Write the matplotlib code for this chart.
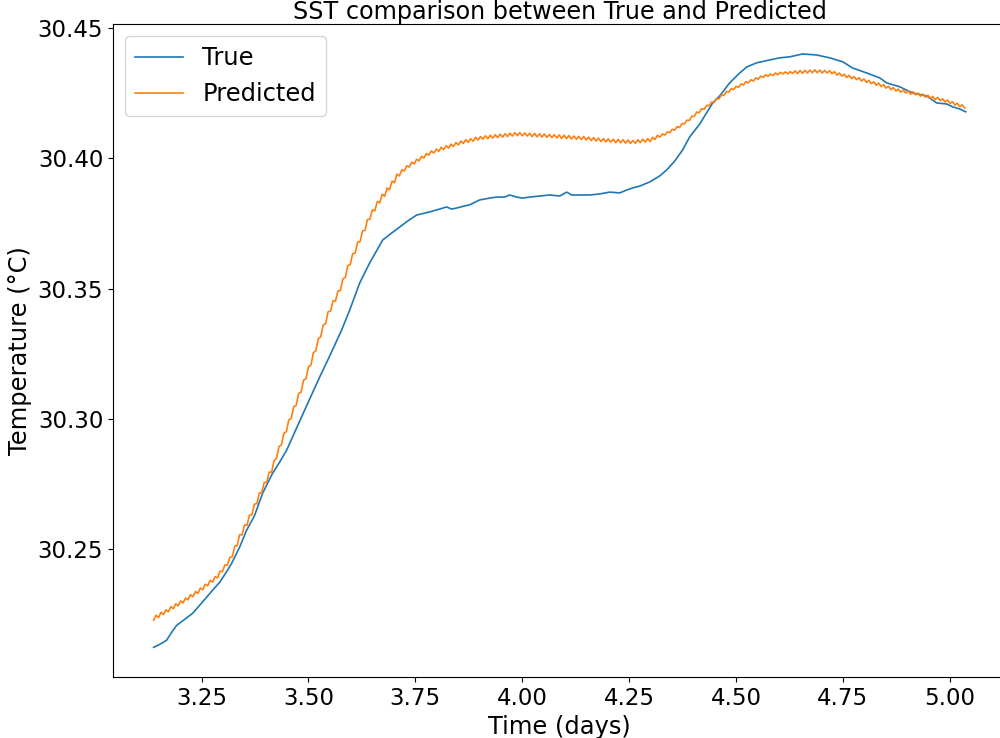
"""SST comparison: true vs predicted sea-surface temperature over ~2 days."""
import numpy as np
import matplotlib; matplotlib.use("Agg")
import matplotlib.pyplot as plt

# observed SST (days, degC)
true_time = [3.1377, 3.1517, 3.1681, 3.1798, 3.1915, 3.2102, 3.2289, 3.2453, 3.2617, 3.2757,
             3.2921, 3.3062, 3.3202, 3.3389, 3.3553, 3.3740, 3.3927, 3.4161, 3.4325, 3.4489,
             3.4793, 3.5027, 3.5261, 3.5495, 3.5776, 3.5963, 3.6197, 3.6431, 3.6735, 3.6945,
             3.7133, 3.7320, 3.7530, 3.7834, 3.8068, 3.8232, 3.8349, 3.8466, 3.8653, 3.8770,
             3.9004, 3.9238, 3.9402, 3.9589, 3.9706, 3.9870, 4.0010, 4.0174, 4.0408, 4.0642,
             4.0876, 4.1040, 4.1157, 4.1344, 4.1578, 4.1812, 4.2046, 4.2280, 4.2444, 4.2584,
             4.2748, 4.2982, 4.3216, 4.3380, 4.3567, 4.3754, 4.3918, 4.4152, 4.4456, 4.4620,
             4.4854, 4.5088, 4.5252, 4.5486, 4.5790, 4.6024, 4.6258, 4.6562, 4.6890, 4.7194,
             4.7498, 4.7732, 4.8060, 4.8364, 4.8528, 4.8832, 4.9135, 4.9463, 4.9697, 4.9931,
             5.0071, 5.0235, 5.0375]
true_sst = [30.2124, 30.2135, 30.2151, 30.2181, 30.2208, 30.2231, 30.2254, 30.2285, 30.2316, 30.2343,
            30.2373, 30.2408, 30.2446, 30.2508, 30.2573, 30.2630, 30.2715, 30.2792, 30.2834, 30.2880,
            30.2991, 30.3076, 30.3160, 30.3241, 30.3341, 30.3417, 30.3521, 30.3598, 30.3686, 30.3713,
            30.3736, 30.3759, 30.3782, 30.3794, 30.3805, 30.3813, 30.3805, 30.3809, 30.3817, 30.3821,
            30.3840, 30.3847, 30.3851, 30.3851, 30.3859, 30.3851, 30.3847, 30.3851, 30.3855, 30.3859,
            30.3855, 30.3870, 30.3859, 30.3859, 30.3859, 30.3863, 30.3870, 30.3867, 30.3878, 30.3886,
            30.3893, 30.3909, 30.3932, 30.3955, 30.3989, 30.4032, 30.4082, 30.4131, 30.4212, 30.4239,
            30.4289, 30.4327, 30.4350, 30.4366, 30.4377, 30.4385, 30.4389, 30.4400, 30.4396, 30.4385,
            30.4370, 30.4346, 30.4327, 30.4308, 30.4289, 30.4274, 30.4250, 30.4239, 30.4212, 30.4208,
            30.4197, 30.4189, 30.4178]

# model output, sampled every 0.00575 days from t0
pred_t0 = 3.1377
pred_dt = 0.00575
pred_sst = [
    30.2228, 30.2247, 30.2238, 30.2258, 30.2249, 30.2268, 30.2260, 30.2280, 30.2272, 30.2291,
    30.2283, 30.2302, 30.2294, 30.2313, 30.2306, 30.2326, 30.2318, 30.2338, 30.2331, 30.2351,
    30.2345, 30.2366, 30.2360, 30.2381, 30.2374, 30.2395, 30.2390, 30.2416, 30.2414, 30.2440,
    30.2439, 30.2469, 30.2471, 30.2512, 30.2514, 30.2556, 30.2555, 30.2594, 30.2592, 30.2631,
    30.2632, 30.2673, 30.2675, 30.2716, 30.2717, 30.2757, 30.2756, 30.2796, 30.2796, 30.2840,
    30.2849, 30.2894, 30.2900, 30.2945, 30.2951, 30.2996, 30.3002, 30.3047, 30.3052, 30.3098,
    30.3103, 30.3149, 30.3154, 30.3200, 30.3206, 30.3254, 30.3261, 30.3308, 30.3315, 30.3360,
    30.3366, 30.3411, 30.3414, 30.3453, 30.3452, 30.3491, 30.3492, 30.3537, 30.3543, 30.3588,
    30.3592, 30.3634, 30.3636, 30.3678, 30.3680, 30.3721, 30.3723, 30.3765, 30.3766, 30.3802,
    30.3798, 30.3834, 30.3829, 30.3862, 30.3854, 30.3886, 30.3879, 30.3912, 30.3906, 30.3939,
    30.3932, 30.3956, 30.3951, 30.3971, 30.3966, 30.3985, 30.3978, 30.3996, 30.3990, 30.4007,
    30.4001, 30.4018, 30.4012, 30.4028, 30.4020, 30.4035, 30.4026, 30.4042, 30.4033, 30.4048,
    30.4039, 30.4054, 30.4045, 30.4060, 30.4051, 30.4066, 30.4057, 30.4071, 30.4061, 30.4075,
    30.4065, 30.4080, 30.4070, 30.4083, 30.4073, 30.4086, 30.4075, 30.4088, 30.4077, 30.4090,
    30.4079, 30.4092, 30.4081, 30.4094, 30.4083, 30.4096, 30.4085, 30.4098, 30.4087, 30.4098,
    30.4086, 30.4097, 30.4085, 30.4096, 30.4083, 30.4095, 30.4082, 30.4094, 30.4081, 30.4093,
    30.4080, 30.4091, 30.4079, 30.4090, 30.4078, 30.4089, 30.4076, 30.4088, 30.4075, 30.4087,
    30.4074, 30.4085, 30.4073, 30.4084, 30.4072, 30.4083, 30.4070, 30.4081, 30.4068, 30.4079,
    30.4066, 30.4077, 30.4064, 30.4075, 30.4063, 30.4074, 30.4062, 30.4073, 30.4060, 30.4072,
    30.4059, 30.4071, 30.4058, 30.4070, 30.4057, 30.4068, 30.4057, 30.4071, 30.4060, 30.4073,
    30.4062, 30.4075, 30.4064, 30.4080, 30.4072, 30.4088, 30.4081, 30.4093, 30.4089, 30.4101,
    30.4098, 30.4111, 30.4108, 30.4121, 30.4118, 30.4133, 30.4132, 30.4146, 30.4145, 30.4161,
    30.4161, 30.4177, 30.4175, 30.4190, 30.4188, 30.4203, 30.4201, 30.4215, 30.4214, 30.4229,
    30.4228, 30.4242, 30.4241, 30.4256, 30.4254, 30.4267, 30.4263, 30.4276, 30.4272, 30.4285,
    30.4281, 30.4294, 30.4289, 30.4301, 30.4296, 30.4308, 30.4303, 30.4315, 30.4310, 30.4320,
    30.4314, 30.4323, 30.4317, 30.4327, 30.4320, 30.4330, 30.4323, 30.4331, 30.4324, 30.4332,
    30.4325, 30.4335, 30.4325, 30.4336, 30.4326, 30.4337, 30.4327, 30.4338, 30.4328, 30.4339,
    30.4328, 30.4338, 30.4327, 30.4337, 30.4327, 30.4336, 30.4324, 30.4332, 30.4319, 30.4327,
    30.4315, 30.4322, 30.4310, 30.4318, 30.4305, 30.4313, 30.4301, 30.4309, 30.4296, 30.4304,
    30.4291, 30.4298, 30.4286, 30.4293, 30.4280, 30.4288, 30.4275, 30.4282, 30.4269, 30.4276,
    30.4263, 30.4271, 30.4258, 30.4265, 30.4253, 30.4262, 30.4250, 30.4258, 30.4246, 30.4255,
    30.4243, 30.4250, 30.4238, 30.4246, 30.4234, 30.4242, 30.4230, 30.4237, 30.4225, 30.4233,
    30.4221, 30.4228, 30.4216, 30.4223, 30.4210, 30.4217, 30.4204, 30.4211, 30.4198, 30.4205,
    30.4192]
pred_time = pred_t0 + pred_dt * np.arange(len(pred_sst))

plt.rcParams.update({"font.size": 16.5})

fig = plt.figure(figsize=(10, 7.38), dpi=100)
ax = fig.add_axes([0.113, 0.0827, 0.8933, 0.8844])
ax.plot(true_time, true_sst, lw=1.2, label="True")
ax.plot(pred_time, pred_sst, lw=1.2, label="Predicted")
ax.set_yticks([30.25, 30.30, 30.35, 30.40, 30.45])
ax.set_xlabel("Time (days)", fontsize=17.4)
ax.set_ylabel("Temperature (°C)", fontsize=17.4)
ax.set_title("SST comparison between True and Predicted", fontsize=17.2, pad=3)
ax.legend(loc="upper left", fontsize=17.4)
fig.savefig("out.png", dpi=100)
